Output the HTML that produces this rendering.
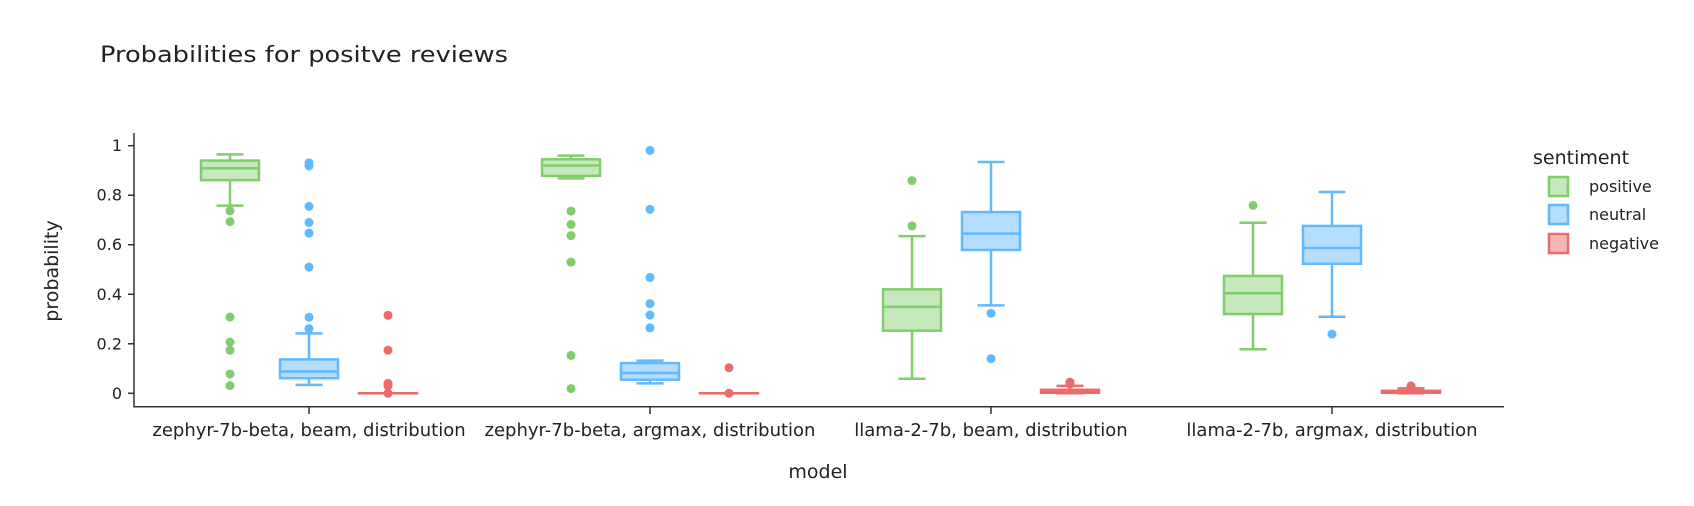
<!DOCTYPE html>
<html><head><meta charset="utf-8"><style>
html,body{margin:0;padding:0;background:#fff;}
svg{display:block;font-family:"DejaVu Sans","Liberation Sans",sans-serif;}
</style></head><body>
<svg id="chart" width="1694" height="506" viewBox="0 0 1694 506" xmlns="http://www.w3.org/2000/svg">
<text x="100" y="62" font-size="22" style="fill:#222" textLength="408" lengthAdjust="spacingAndGlyphs">Probabilities for positve reviews</text>
<g id="axes"></g>
<g id="marks"></g>
<text x="818" y="478" font-size="19" fill="#222" text-anchor="middle">model</text>
<text transform="translate(58,271) rotate(-90)" font-size="19" fill="#222" text-anchor="middle">probability</text>
<g>
<text x="1533" y="164" font-size="19" fill="#222">sentiment</text>
<g><rect x="1549" y="177" width="19" height="19" fill="#c5e8bc" stroke="#82cd6b" stroke-width="2.5"/><text x="1589" y="192" font-size="16" fill="#222">positive</text></g>
<g><rect x="1549" y="205" width="19" height="19" fill="#b5ddfd" stroke="#61baff" stroke-width="2.5"/><text x="1589" y="220" font-size="16" fill="#222">neutral</text></g>
<g><rect x="1549" y="234" width="19" height="19" fill="#f7b6b6" stroke="#ed6a6a" stroke-width="2.5"/><text x="1589" y="249" font-size="16" fill="#222">negative</text></g>
</g>
</svg>
<script>
const categories = ["zephyr-7b-beta, beam, distribution","zephyr-7b-beta, argmax, distribution","llama-2-7b, beam, distribution","llama-2-7b, argmax, distribution"];
const yTicks = [0,0.2,0.4,0.6,0.8,1];
const yTickLabels = ["0","0.2","0.4","0.6","0.8","1"];
const sentiments = ["positive","neutral","negative"];
// [lowerWhisker, q1, median, q3, upperWhisker] per category
const positiveStats = [[0.758,0.861,0.909,0.94,0.965],[0.868,0.878,0.92,0.945,0.96],[0.059,0.253,0.349,0.42,0.635],[0.178,0.32,0.404,0.474,0.689]];
const neutralStats = [[0.034,0.061,0.088,0.137,0.242],[0.04,0.055,0.082,0.122,0.132],[0.355,0.579,0.645,0.732,0.934],[0.309,0.523,0.587,0.676,0.813]];
const negativeStats = [[0,0,0,0,0],[0,0,0,0,0],[0,0.002,0.007,0.014,0.03],[0,0.002,0.005,0.01,0.02]];
const positiveOutliers = [[0.737,0.693,0.308,0.207,0.174,0.078,0.031],[0.736,0.682,0.637,0.53,0.153,0.019],[0.859,0.676],[0.759]];
const neutralOutliers = [[0.931,0.918,0.755,0.69,0.647,0.51,0.307,0.261],[0.981,0.743,0.468,0.362,0.316,0.264],[0.323,0.14],[0.239]];
const negativeOutliers = [[0.315,0.174,0.04,0.03,0],[0.103,0],[0.038,0.045],[0.03,0.025]];

const NS="http://www.w3.org/2000/svg";
const X0=138.5, X1=1502.5, Y0=393.3, Y1=145.7;
const bandW=(X1-X0)/categories.length;
function xScale(i){return X0+bandW*(i+0.5);}
function yScale(v){return Y0-(Y0-Y1)*v;}
const offsets=[-79,0,79];
const strokes=["#82cd6b","#61baff","#ed6a6a"];
const fills=["#c5e8bc","#b5ddfd","#f7b6b6"];
const statsAll=[positiveStats,neutralStats,negativeStats];
const outAll=[positiveOutliers,neutralOutliers,negativeOutliers];
function mk(tag,attrs,parent){const e=document.createElementNS(NS,tag);for(const k in attrs)e.setAttribute(k,attrs[k]);parent.appendChild(e);return e;}
const axes=document.getElementById('axes');
mk('line',{x1:134,y1:406.7,x2:1504,y2:406.7,stroke:'#333',"stroke-width":1.5},axes);
mk('line',{x1:134,y1:133,x2:134,y2:407.5,stroke:'#333',"stroke-width":1.5},axes);
yTicks.forEach((t,i)=>{
  const y=yScale(t);
  const tk=mk('line',{x1:128,y1:y,x2:134,y2:y,stroke:'#333',"stroke-width":1.5},axes);
  
  
  const tx=mk('text',{x:122,y:y+5.5,"font-size":16,fill:'#222',"text-anchor":'end'},axes);
  tx.textContent=yTickLabels[i];
  
  
});
categories.forEach((c,i)=>{
  const x=xScale(i);
  const tk=mk('line',{x1:x,y1:407,x2:x,y2:414,stroke:'#333',"stroke-width":1.5},axes);
  
  
  const tx=mk('text',{x:x,y:436,"font-size":18,fill:'#222',"text-anchor":'middle'},axes);
  tx.textContent=c;
  
  
});
const marks=document.getElementById('marks');
const bw=58, cw=27;
categories.forEach((c,i)=>{
  sentiments.forEach((s,k)=>{
    const cx=xScale(i)+offsets[k];
    const st=statsAll[k][i];
    const g=mk('g',{},marks);
    
    
    const col=strokes[k];
    mk('line',{x1:cx,y1:yScale(st[0]),x2:cx,y2:yScale(st[1]),stroke:col,"stroke-width":2.5},g);
    mk('line',{x1:cx,y1:yScale(st[3]),x2:cx,y2:yScale(st[4]),stroke:col,"stroke-width":2.5},g);
    mk('line',{x1:cx-cw/2,y1:yScale(st[0]),x2:cx+cw/2,y2:yScale(st[0]),stroke:col,"stroke-width":2.5},g);
    mk('line',{x1:cx-cw/2,y1:yScale(st[4]),x2:cx+cw/2,y2:yScale(st[4]),stroke:col,"stroke-width":2.5},g);
    mk('rect',{x:cx-bw/2,y:yScale(st[3]),width:bw,height:Math.max(yScale(st[1])-yScale(st[3]),0.01),fill:fills[k],stroke:col,"stroke-width":2.5},g);
    mk('line',{x1:cx-bw/2,y1:yScale(st[2]),x2:cx+bw/2,y2:yScale(st[2]),stroke:col,"stroke-width":2.5},g);
    outAll[k][i].forEach(v=>{
      const p=mk('circle',{cx:cx,cy:yScale(v),r:4.5,fill:col},marks);
      
      
    });
  });
});
</script>
</body></html>
